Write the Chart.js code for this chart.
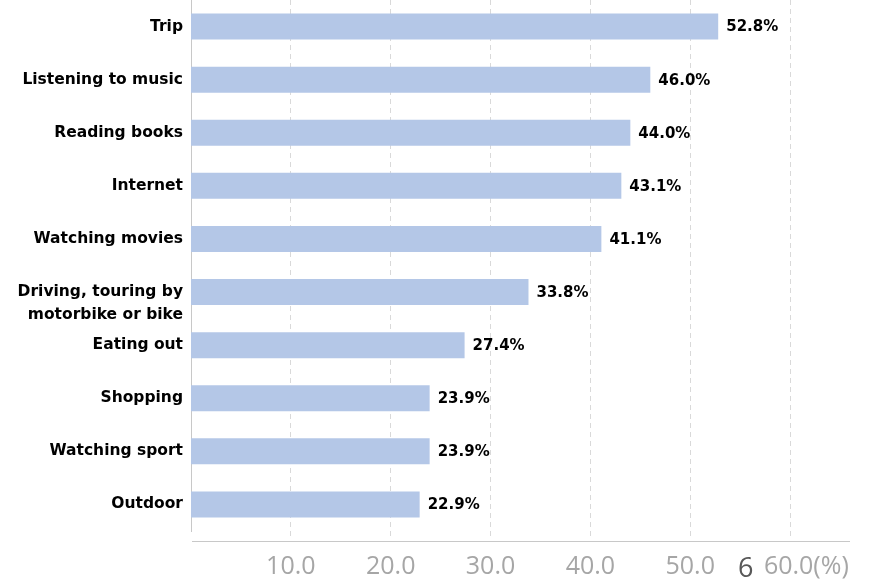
<!DOCTYPE html>
<html>
<head>
<meta charset="utf-8">
<script src="https://cdn.jsdelivr.net/npm/chart.js@4.4.0/dist/chart.umd.min.js"></script>
<style>
  html, body { margin: 0; background: #fff; }
  #wrap { position: relative; width: 869px; height: 579px; }
  #page { position: absolute; left: 738px; top: 548px; font: 27px 'Open Sans', sans-serif; color: #595959; }
</style>
</head>
<body>
<div id="wrap">
  <canvas id="chart"></canvas>
  <div id="page">6</div>
</div>
<script>
// data
const categories = ['Trip', 'Listening to music', 'Reading books', 'Internet', 'Watching movies',
  ['', 'Driving, touring by', 'motorbike or bike'], 'Eating out', 'Shopping', 'Watching sport', 'Outdoor']
const shares = [52.8, 46.0, 44.0, 43.1, 41.1, 33.8, 27.4, 23.9, 23.9, 22.9]
const tickValues = [10, 20, 30, 40, 50, 60]
const tickLabels = ['10.0', '20.0', '30.0', '40.0', '50.0', '     60.0(%)']

// percent labels at the end of each bar (no datalabels plugin available offline)
const valueLabels = {
  id: 'valueLabels',
  afterDatasetsDraw(chart) {
    const ctx = chart.ctx
    const meta = chart.getDatasetMeta(0)
    ctx.save()
    ctx.font = 'bold 15px "DejaVu Sans"'
    ctx.fillStyle = '#000'
    ctx.textAlign = 'left'
    ctx.textBaseline = 'middle'
    meta.data.forEach((bar, i) => {
      ctx.fillText(shares[i].toFixed(1) + '%', bar.x + 8, bar.y + 1)
    })
    ctx.restore()
  }
}

// the horizontal axis line sits a little below the last bar row
const bottomLine = {
  id: 'bottomLine',
  afterDraw(chart) {
    const { ctx, chartArea } = chart
    ctx.save()
    ctx.strokeStyle = '#c8c8c8'
    ctx.lineWidth = 1
    ctx.beginPath()
    ctx.moveTo(chartArea.left + 1, chartArea.bottom + 10.5)
    ctx.lineTo(chartArea.right, chartArea.bottom + 10.5)
    ctx.stroke()
    ctx.restore()
  }
}

new Chart(document.getElementById('chart'), {
  type: 'bar',
  data: {
    labels: categories,
    datasets: [{
      data: shares,
      backgroundColor: '#b4c7e7',
      categoryPercentage: 1,
      barPercentage: 0.49,
    }]
  },
  options: {
    indexAxis: 'y',
    responsive: true,
    maintainAspectRatio: false,
    animation: false,
    layout: { padding: { top: 0, right: 19, bottom: 0, left: 0 } },
    plugins: { legend: { display: false }, tooltip: { enabled: false } },
    scales: {
      x: {
        min: 0,
        max: 66,
        afterFit: (scale) => {
          scale.height = 48
          scale.paddingLeft = 0
          scale.paddingRight = 0
        },
        afterBuildTicks: (scale) => { scale.ticks = tickValues.map(v => ({ value: v })) },
        grid: {
          color: '#d9d9d9',
          tickLength: 6,
          tickColor: '#d9d9d9',
          tickBorderDash: [5, 4],
        },
        border: { display: false, dash: [5, 4] },
        ticks: {
          padding: 15,
          color: '#a6a6a6',
          font: { family: 'Open Sans', size: 25 },
          maxRotation: 0,
          autoSkip: false,
          callback: (value, i) => tickLabels[i],
        }
      },
      y: {
        afterFit: (scale) => {
          scale.width = 191
          scale.paddingTop = 0
          scale.paddingBottom = 0
        },
        grid: { display: false },
        border: { display: true, color: '#c8c8c8' },
        ticks: {
          padding: 0,
          autoSkip: false,
          color: '#000',
          font: { family: 'DejaVu Sans', size: 15.5, weight: 'bold', lineHeight: 1.45 },
        }
      }
    }
  },
  plugins: [valueLabels, bottomLine]
})
</script>
</body>
</html>
